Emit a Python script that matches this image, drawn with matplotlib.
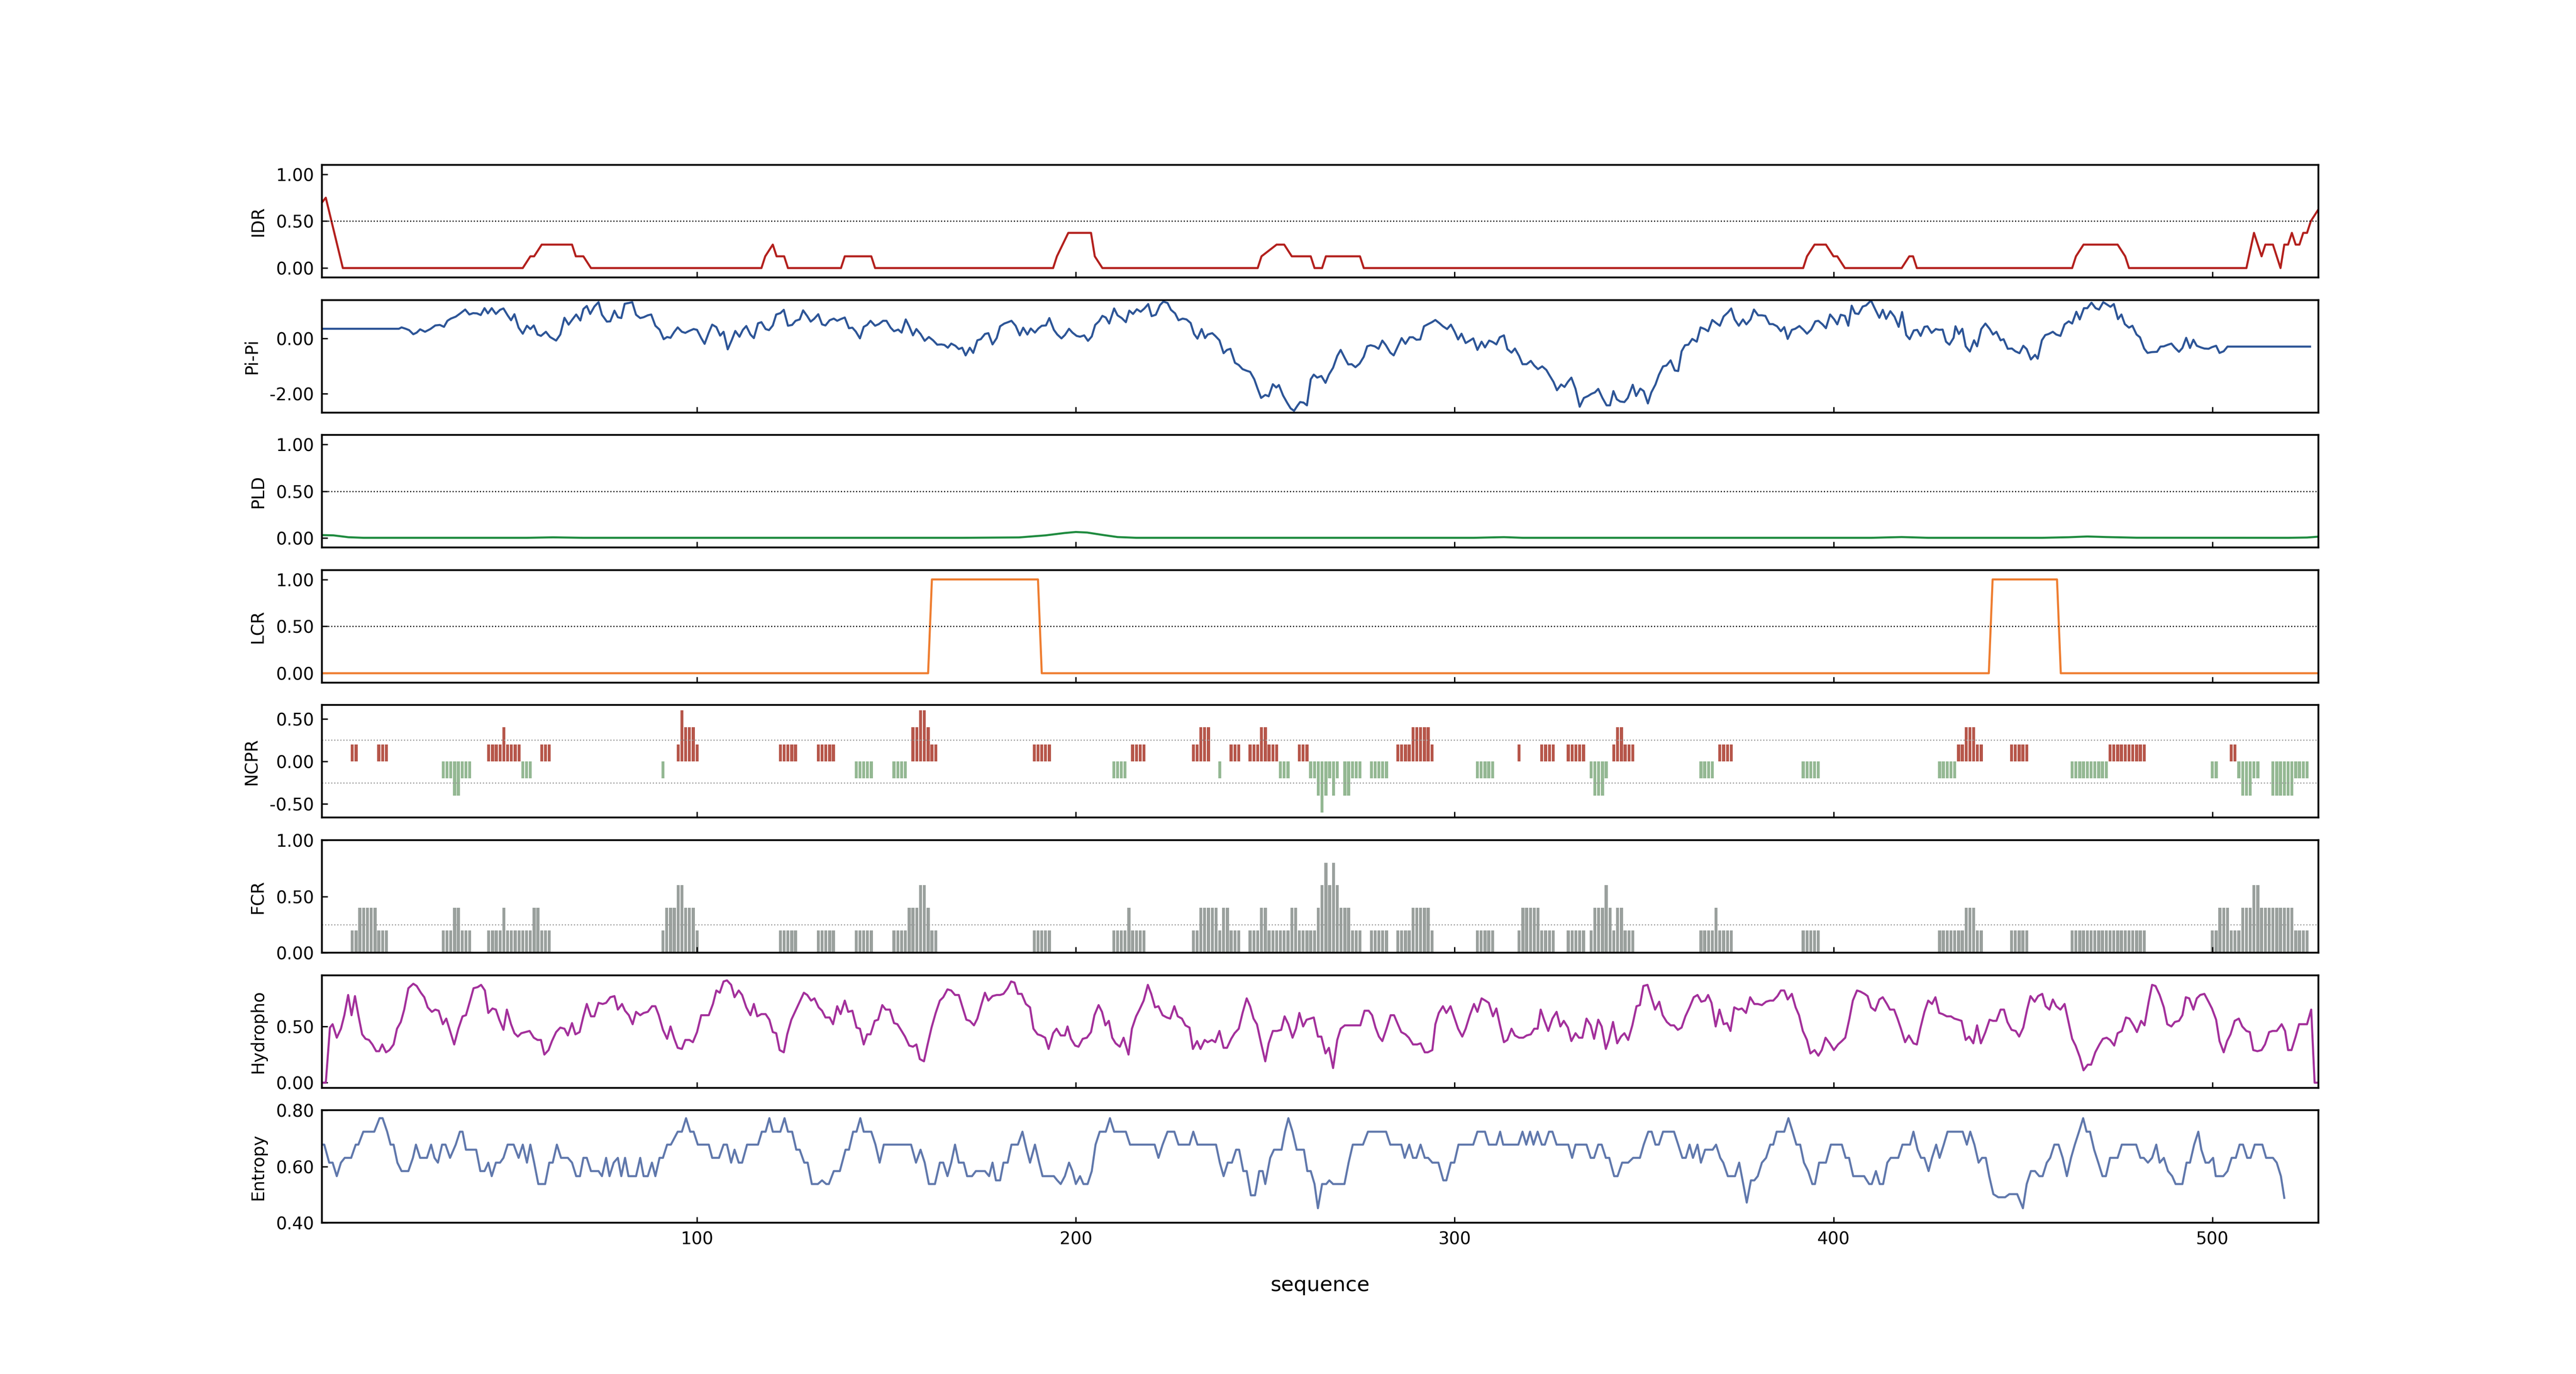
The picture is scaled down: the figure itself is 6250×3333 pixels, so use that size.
import numpy as np
import matplotlib
matplotlib.use('Agg')
import matplotlib.pyplot as plt

# sequence length / x range
seq_start = 1
seq_end = 528

# IDR profile (residue, score)
idr_pts = [(1, 0.70), (2, 0.75), (6.5, 0.0), (54, 0), (56, 0.125), (57, 0.125), (59, 0.25), (67, 0.25),
           (68, 0.125), (70, 0.125), (72, 0), (117, 0), (118, 0.125), (120, 0.25), (121, 0.125),
           (123, 0.125), (124, 0), (138, 0), (139, 0.125), (146, 0.125), (147, 0), (194, 0),
           (195, 0.125), (198, 0.375), (204, 0.375), (205, 0.125), (207, 0), (248, 0), (249, 0.125),
           (253, 0.25), (255, 0.25), (257, 0.125), (262, 0.125), (263, 0), (265, 0), (266, 0.125),
           (275, 0.125), (276, 0), (392, 0), (393, 0.125), (395, 0.25), (398, 0.25), (400, 0.125),
           (401, 0.125), (403, 0), (418, 0), (420, 0.125), (421, 0.125), (422, 0), (463, 0),
           (464, 0.125), (466, 0.25), (475, 0.25), (477, 0.125), (478, 0), (509, 0), (511, 0.375),
           (513, 0.125), (514, 0.25), (516, 0.25), (518, 0), (519, 0.25), (520, 0.25), (521, 0.375),
           (522, 0.25), (523, 0.25), (524, 0.375), (525, 0.375), (526, 0.5), (528, 0.625)]

pipi_pts = [(1, 0.36), (21.3, 0.36), (22.0, 0.41), (23.1, 0.36), (24.0, 0.31), (25.1, 0.16), (26.0, 0.22),
            (26.9, 0.34), (28.2, 0.25), (29.6, 0.35), (30.9, 0.48), (32.1, 0.50), (33.2, 0.43), (34.1, 0.65),
            (35.0, 0.73), (36.3, 0.80), (37.5, 0.92), (38.8, 1.06), (39.9, 0.88), (40.9, 0.93), (41.9, 0.92),
            (42.9, 0.86), (43.9, 1.11), (44.8, 0.92), (45.8, 1.11), (46.9, 0.90), (48.0, 1.05), (48.9, 1.10),
            (50.0, 0.85), (50.9, 0.67), (51.8, 0.89), (52.9, 0.40), (54.0, 0.18), (55.1, 0.47), (56.0, 0.35),
            (56.9, 0.48), (57.9, 0.15), (58.8, 0.10), (60.1, 0.25), (61.2, 0.06), (62.8, -0.07), (63.9, 0.15),
            (65.0, 0.76), (66.1, 0.51), (67.1, 0.70), (68.1, 0.88), (69.2, 0.66), (70.0, 1.08), (70.9, 1.19),
            (71.8, 0.90), (72.9, 1.17), (74.0, 1.33), (74.9, 0.87), (76.2, 0.62), (77.1, 0.63), (78.2, 1.02),
            (79.1, 0.78), (80.0, 0.75), (80.9, 1.27), (82.0, 1.30), (82.9, 1.33), (83.9, 0.87), (85.0, 0.75),
            (85.9, 0.78), (87.0, 0.85), (87.9, 0.88), (89.0, 0.47), (90.1, 0.33), (91.2, -0.02), (92.1, 0.06),
            (93.0, 0.03), (94.0, 0.25), (94.9, 0.41), (96.0, 0.25), (96.9, 0.21), (97.9, 0.28), (99.1, 0.35),
            (100.0, 0.32), (101.1, 0.02), (102.0, -0.19), (103.1, 0.22), (104.0, 0.51), (105.1, 0.42),
            (106.1, 0.11), (107.0, 0.25), (108.1, -0.39), (109.2, -0.04), (110.1, 0.28), (111.2, 0.07),
            (112.1, 0.32), (113.0, 0.46), (114.1, 0.15), (115.0, 0.02), (116.1, 0.56), (117.0, 0.60),
            (118.1, 0.35), (119.0, 0.31), (120.0, 0.48), (120.9, 0.88), (122.0, 0.93), (122.9, 1.05),
            (124.0, 0.47), (125.1, 0.50), (126.0, 0.65), (127.1, 0.70), (128.0, 1.03), (129.1, 0.82),
            (130.0, 0.62), (130.9, 0.72), (132.0, 0.89), (133.0, 0.52), (133.9, 0.48), (135.0, 0.67),
            (136.1, 0.73), (137.0, 0.65), (137.9, 0.71), (139.0, 0.77), (140.1, 0.38), (141.0, 0.40),
            (141.9, 0.26), (143.0, 0.01), (144.0, 0.43), (144.9, 0.50), (145.8, 0.65), (147.0, 0.47),
            (148.0, 0.53), (149.1, 0.65), (150.0, 0.65), (151.1, 0.40), (152.0, 0.27), (153.1, 0.33),
            (154.0, 0.22), (155.1, 0.70), (156.0, 0.45), (157.0, 0.12), (157.9, 0.35), (159.0, 0.17),
            (160.1, -0.08), (161.2, 0.06), (162.3, -0.06), (163.4, -0.22), (164.5, -0.21), (165.3, -0.23),
            (166.2, -0.33), (167.1, -0.18), (168.2, -0.26), (169.1, -0.38), (170.0, -0.33), (170.9, -0.61),
            (172.0, -0.33), (172.9, -0.52), (174.0, -0.06), (174.9, -0.02), (176.0, 0.17), (176.9, 0.20),
            (178.0, -0.21), (179.1, 0.02), (180.0, 0.45), (181.1, 0.55), (182.1, 0.60), (183.0, 0.65),
            (184.1, 0.47), (185.2, 0.12), (186.1, 0.40), (187.2, 0.15), (188.1, 0.37), (189.2, 0.22),
            (190.1, 0.37), (191.0, 0.47), (192.1, 0.48), (193.0, 0.75), (194.2, 0.32), (195.1, 0.15),
            (196.2, 0.01), (197.1, 0.13), (198.2, 0.36), (199.1, 0.22), (200.2, 0.10), (201.1, 0.07),
            (202.2, 0.12), (203.2, -0.08), (204.2, 0.08), (205.1, 0.50), (206.1, 0.63), (207.0, 0.83),
            (207.9, 0.77), (208.8, 0.55), (210.1, 1.10), (211.0, 0.85), (212.1, 0.75), (213.2, 0.60),
            (214.1, 1.02), (215.1, 0.90), (216.1, 1.07), (217.1, 0.98), (218.1, 1.10), (219.1, 1.26),
            (220.0, 0.82), (221.1, 0.87), (222.2, 1.22), (223.1, 1.35), (224.2, 1.30), (225.1, 1.05),
            (226.2, 0.92), (227.1, 0.67), (228.2, 0.73), (229.2, 0.70), (230.3, 0.57), (231.2, 0.17),
            (232.1, 0.00), (233.2, 0.35), (234.1, 0.02), (234.8, 0.15), (236.0, 0.20), (236.8, 0.10),
            (237.9, -0.06), (239.0, -0.53), (239.9, -0.41), (240.8, -0.37), (242.0, -0.88), (243.0, -0.96),
            (244.0, -1.11), (245.1, -1.17), (246.0, -1.21), (247.1, -1.48), (248.0, -1.83), (248.9, -2.16),
            (250.0, -2.05), (250.9, -2.10), (252.0, -1.66), (252.9, -1.78), (253.6, -1.69), (254.7, -2.07),
            (255.8, -2.34), (256.7, -2.54), (257.6, -2.63), (258.5, -2.44), (259.2, -2.31), (260.1, -2.33),
            (261.0, -2.43), (262.0, -1.48), (262.8, -1.31), (263.7, -1.42), (264.8, -1.36), (265.9, -1.61),
            (266.8, -1.31), (267.9, -1.06), (269.0, -0.63), (269.9, -0.41), (271.0, -0.71), (271.9, -0.94),
            (272.8, -0.93), (273.8, -1.04), (274.9, -0.91), (276.0, -0.66), (276.9, -0.28), (277.8, -0.24),
            (278.9, -0.28), (279.9, -0.37), (280.9, -0.07), (281.8, -0.23), (283.0, -0.51), (283.9, -0.61),
            (285.0, -0.28), (286.0, 0.02), (287.0, -0.19), (288.1, 0.05), (289.0, 0.05), (289.9, -0.04),
            (290.9, -0.03), (291.9, 0.45), (293.0, 0.53), (294.0, 0.60), (294.9, 0.68), (296.0, 0.56),
            (296.9, 0.45), (298.0, 0.35), (299.0, 0.51), (300.0, 0.25), (300.9, -0.03), (301.8, 0.18),
            (302.9, -0.16), (304.0, -0.07), (304.9, 0.01), (306.0, -0.41), (307.1, -0.11), (308.0, -0.32),
            (309.1, -0.07), (310.0, -0.12), (311.0, -0.21), (311.9, 0.05), (313.0, 0.12), (313.9, -0.38),
            (315.0, -0.51), (315.9, -0.36), (317.0, -0.63), (317.9, -0.93), (319.0, -0.93), (320.1, -0.81),
            (321.0, -0.98), (322.0, -1.11), (323.1, -1.01), (324.2, -1.14), (325.0, -1.33), (326.1, -1.58),
            (327.0, -1.88), (328.1, -1.67), (329.0, -1.76), (329.9, -1.57), (330.8, -1.42), (331.9, -1.83),
            (333.0, -2.48), (334.1, -2.16), (335.2, -2.09), (336.1, -2.01), (337.0, -1.96), (337.9, -1.83),
            (339.0, -2.16), (340.1, -2.43), (341.0, -2.43), (341.9, -1.91), (342.8, -2.21), (343.7, -2.29),
            (344.8, -2.31), (345.7, -2.16), (347.0, -1.68), (347.9, -2.09), (349.0, -1.82), (349.9, -1.91),
            (351.0, -2.36), (351.9, -1.96), (353.0, -1.67), (353.9, -1.32), (355.0, -1.01), (355.9, -0.98),
            (357.0, -0.79), (358.1, -1.16), (359.0, -1.18), (359.9, -0.46), (360.8, -0.24), (361.7, -0.22),
            (362.7, -0.01), (363.9, -0.11), (364.9, 0.41), (366.0, 0.35), (366.9, 0.27), (368.0, 0.68),
            (369.1, 0.56), (370.0, 0.47), (371.0, 0.81), (372.1, 0.95), (373.0, 1.10), (373.9, 0.70),
            (375.0, 0.47), (376.1, 0.70), (377.0, 0.52), (378.1, 0.70), (379.0, 1.06), (380.1, 0.85),
            (381.1, 0.85), (382.0, 0.83), (383.1, 0.53), (384.0, 0.53), (385.1, 0.45), (386.1, 0.27),
            (387.0, 0.42), (387.9, -0.01), (389.0, 0.32), (389.9, 0.36), (391.0, 0.46), (392.1, 0.32),
            (393.0, 0.18), (394.1, 0.33), (395.2, 0.63), (396.0, 0.65), (397.1, 0.52), (398.0, 0.38),
            (399.1, 0.88), (400.2, 0.70), (401.0, 0.52), (401.9, 0.87), (403.0, 0.83), (403.9, 0.47),
            (404.8, 1.20), (405.7, 0.92), (406.6, 0.90), (407.7, 1.17), (408.6, 1.21), (409.9, 1.39),
            (411.0, 1.07), (412.1, 0.76), (413.0, 1.05), (413.9, 0.72), (415.0, 1.00), (416.1, 0.80),
            (417.2, 0.43), (418.1, 0.97), (419.2, 0.13), (420.1, -0.02), (421.2, 0.30), (422.1, 0.32),
            (423.0, 0.10), (424.0, 0.43), (424.8, 0.45), (425.9, 0.21), (427.0, 0.35), (427.9, 0.32),
            (428.8, 0.33), (429.7, -0.11), (430.6, -0.22), (431.7, 0.03), (432.2, 0.45), (433.1, 0.17),
            (434.0, 0.36), (434.9, -0.28), (436.0, -0.47), (437.1, -0.06), (437.9, -0.28), (439.0, 0.35),
            (440.1, 0.55), (441.2, 0.36), (442.1, 0.15), (443.0, 0.25), (444.1, -0.06), (444.9, -0.02),
            (446.0, -0.37), (447.1, -0.36), (448.0, -0.46), (449.1, -0.53), (450.1, -0.26), (451.0, -0.38),
            (452.1, -0.76), (453.2, -0.59), (453.9, -0.73), (455.0, -0.06), (455.9, 0.13), (456.8, 0.17),
            (457.9, 0.25), (458.8, 0.15), (459.9, 0.10), (461.0, 0.52), (462.1, 0.63), (463.0, 0.55),
            (464.1, 0.98), (465.0, 0.70), (466.1, 1.11), (467.0, 1.11), (468.1, 1.31), (469.2, 1.11),
            (470.1, 1.06), (471.2, 1.33), (472.0, 1.26), (473.1, 1.16), (474.0, 1.26), (475.1, 0.71),
            (476.0, 0.88), (476.9, 0.53), (478.0, 0.40), (478.9, 0.47), (480.0, 0.15), (480.9, 0.05),
            (482.0, -0.36), (482.9, -0.52), (484.0, -0.49), (485.4, -0.48), (486.3, -0.29), (487.2, -0.28),
            (488.3, -0.22), (489.2, -0.18), (490.1, -0.33), (491.2, -0.48), (492.1, -0.34), (493.1, 0.03),
            (494.1, -0.34), (495.0, -0.04), (495.9, -0.26), (497.0, -0.32), (497.9, -0.36), (499.0, -0.37),
            (499.9, -0.31), (501.0, -0.26), (501.9, -0.52), (503.0, -0.46), (504.0, -0.29), (525.8, -0.29)]

pld_pts = [(1, 0.033), (4, 0.03), (8, 0.01), (12, 0.004), (55, 0.004), (62, 0.009), (70, 0.004),
           (170, 0.004), (185, 0.008), (192, 0.03), (197, 0.055), (200, 0.066), (203, 0.06), (207, 0.035),
           (211, 0.012), (216, 0.004), (305, 0.004), (313, 0.011), (318, 0.004), (410, 0.004), (418, 0.012),
           (425, 0.004), (455, 0.004), (462, 0.01), (467, 0.018), (472, 0.012), (480, 0.005), (520, 0.004),
           (525, 0.007), (528, 0.016)]

lcr_pts = [(1, 0), (161, 0), (162, 1), (190, 1), (191, 0), (441, 0), (442, 1), (459, 1), (460, 0), (528, 0)]

# charge windows: (first residue, last residue, value)
ncpr_runs = [(9, 10, 0.2), (16, 18, 0.2), (33, 35, -0.2), (36, 37, -0.4), (38, 40, -0.2),
             (45, 48, 0.2), (49, 49, 0.4), (50, 53, 0.2), (54, 56, -0.2), (59, 61, 0.2), (91, 91, -0.2),
             (95, 95, 0.2), (96, 96, 0.6), (97, 99, 0.4), (100, 100, 0.2), (122, 126, 0.2), (132, 136, 0.2),
             (142, 146, -0.2), (152, 155, -0.2), (157, 158, 0.4), (159, 160, 0.6), (161, 161, 0.4),
             (162, 163, 0.2), (189, 193, 0.2), (210, 213, -0.2), (215, 218, 0.2), (231, 232, 0.2),
             (233, 235, 0.4), (238, 238, -0.2), (241, 243, 0.2), (246, 248, 0.2), (249, 250, 0.4),
             (251, 253, 0.2), (254, 256, -0.2), (259, 261, 0.2), (262, 263, -0.2), (264, 264, -0.4),
             (265, 265, -0.6), (266, 266, -0.4), (267, 267, -0.2), (268, 268, -0.4), (269, 269, -0.2),
             (271, 272, -0.4), (273, 275, -0.2), (278, 282, -0.2), (285, 288, 0.2), (289, 293, 0.4),
             (294, 294, 0.2), (306, 310, -0.2), (317, 317, 0.2), (323, 326, 0.2), (330, 334, 0.2),
             (336, 336, -0.2), (337, 339, -0.4), (340, 340, -0.2), (342, 342, 0.2), (343, 344, 0.4),
             (345, 347, 0.2), (365, 368, -0.2), (370, 373, 0.2), (392, 396, -0.2), (428, 432, -0.2),
             (433, 434, 0.2), (435, 437, 0.4), (438, 439, 0.2), (447, 451, 0.2), (463, 472, -0.2),
             (473, 482, 0.2), (500, 501, -0.2), (505, 506, 0.2), (507, 507, -0.2), (508, 510, -0.4),
             (511, 512, -0.2), (516, 521, -0.4), (522, 525, -0.2)]

fcr_runs = [(9, 10, 0.2), (11, 15, 0.4), (16, 18, 0.2), (33, 35, 0.2), (36, 37, 0.4), (38, 40, 0.2),
            (45, 48, 0.2), (49, 49, 0.4), (50, 56, 0.2), (57, 58, 0.4), (59, 61, 0.2), (91, 91, 0.2),
            (92, 94, 0.4), (95, 96, 0.6), (97, 99, 0.4), (100, 100, 0.2), (122, 126, 0.2), (132, 136, 0.2),
            (142, 146, 0.2), (152, 155, 0.2), (156, 158, 0.4), (159, 160, 0.6), (161, 161, 0.4),
            (162, 163, 0.2), (189, 193, 0.2), (210, 213, 0.2), (214, 214, 0.4), (215, 218, 0.2),
            (231, 232, 0.2), (233, 237, 0.4), (238, 238, 0.2), (239, 240, 0.4), (241, 243, 0.2),
            (246, 248, 0.2), (249, 250, 0.4), (251, 256, 0.2), (257, 258, 0.4), (259, 263, 0.2),
            (264, 264, 0.4), (265, 265, 0.6), (266, 266, 0.8), (267, 267, 0.6), (268, 268, 0.8),
            (269, 269, 0.6), (270, 272, 0.4), (273, 275, 0.2), (278, 282, 0.2), (285, 288, 0.2),
            (289, 293, 0.4), (294, 294, 0.2), (306, 310, 0.2), (317, 317, 0.2), (318, 322, 0.4),
            (323, 326, 0.2), (330, 334, 0.2), (336, 336, 0.2), (337, 339, 0.4), (340, 340, 0.6),
            (341, 341, 0.4), (342, 342, 0.2), (343, 344, 0.4), (345, 347, 0.2), (365, 368, 0.2),
            (369, 369, 0.4), (370, 373, 0.2), (392, 396, 0.2), (428, 434, 0.2), (435, 437, 0.4),
            (438, 439, 0.2), (447, 451, 0.2), (463, 482, 0.2), (500, 501, 0.2), (502, 504, 0.4),
            (505, 507, 0.2), (508, 510, 0.4), (511, 512, 0.6), (513, 521, 0.4), (522, 525, 0.2)]

hydro_pts = [(1, 0.0), (2, 0.0), (3.1, 0.49), (3.8, 0.52), (4.9, 0.40), (6.0, 0.48), (6.9, 0.60), (7.9, 0.78),
             (8.8, 0.60), (9.7, 0.77), (10.6, 0.60), (11.6, 0.43), (12.5, 0.39), (13.4, 0.38), (14.3, 0.34),
             (15.3, 0.28), (16.1, 0.28), (16.9, 0.34), (17.9, 0.27), (18.8, 0.29), (19.9, 0.34), (20.8, 0.48),
             (21.8, 0.54), (22.7, 0.65), (23.8, 0.84), (25.1, 0.88), (26.0, 0.86), (27.1, 0.80), (28.0, 0.76),
             (28.9, 0.67), (30.0, 0.63), (30.9, 0.65), (31.8, 0.64), (32.9, 0.52), (33.8, 0.57), (34.8, 0.46),
             (35.9, 0.34), (37.0, 0.48), (38.1, 0.59), (39.0, 0.60), (40.1, 0.73), (41.0, 0.84), (42.1, 0.85),
             (43.0, 0.87), (44.0, 0.82), (44.9, 0.62), (46.0, 0.66), (46.9, 0.65), (47.8, 0.56), (48.9, 0.47),
             (49.8, 0.65), (50.9, 0.52), (51.8, 0.44), (52.7, 0.41), (53.6, 0.44), (54.7, 0.45), (55.8, 0.46),
             (56.9, 0.40), (57.9, 0.38), (58.8, 0.38), (59.7, 0.25), (60.8, 0.29), (61.7, 0.37), (62.8, 0.45),
             (63.9, 0.49), (65.0, 0.48), (65.9, 0.42), (67.0, 0.53), (67.9, 0.43), (69.0, 0.45), (70.0, 0.59),
             (70.9, 0.70), (72.0, 0.59), (72.9, 0.59), (74.0, 0.71), (75.1, 0.70), (76.0, 0.71), (77.1, 0.76),
             (78.2, 0.77), (79.1, 0.65), (80.2, 0.70), (81.0, 0.64), (82.0, 0.60), (83.0, 0.52), (83.9, 0.63),
             (85.0, 0.60), (85.9, 0.62), (87.0, 0.63), (88.1, 0.68), (89.0, 0.68), (89.9, 0.60), (91.0, 0.47),
             (92.1, 0.39), (93.0, 0.50), (94.0, 0.39), (94.9, 0.31), (96.0, 0.30), (96.9, 0.38), (98.0, 0.38),
             (98.9, 0.36), (100.0, 0.45), (101.1, 0.60), (102.2, 0.60), (103.1, 0.60), (104.2, 0.70),
             (105.1, 0.82), (106.0, 0.80), (107.0, 0.90), (107.9, 0.91), (109.0, 0.87), (109.9, 0.76),
             (111.0, 0.82), (111.9, 0.78), (113.0, 0.67), (114.1, 0.60), (115.0, 0.70), (115.9, 0.59),
             (117.0, 0.61), (118.1, 0.61), (119.1, 0.56), (120.0, 0.45), (120.9, 0.44), (121.8, 0.29),
             (122.9, 0.27), (123.8, 0.43), (124.9, 0.56), (126.0, 0.64), (127.1, 0.72), (128.2, 0.80),
             (129.1, 0.78), (130.1, 0.73), (131.0, 0.75), (132.1, 0.67), (133.0, 0.64), (133.9, 0.58),
             (135.0, 0.58), (135.9, 0.52), (137.0, 0.68), (137.9, 0.61), (139.0, 0.73), (139.9, 0.63),
             (141.0, 0.64), (142.1, 0.49), (143.0, 0.48), (144.0, 0.34), (144.9, 0.43), (145.8, 0.43),
             (146.9, 0.55), (147.8, 0.56), (148.9, 0.69), (149.8, 0.65), (150.9, 0.65), (152.0, 0.53),
             (152.9, 0.52), (154.0, 0.46), (154.9, 0.41), (156.0, 0.33), (157.0, 0.32), (157.9, 0.34),
             (158.8, 0.21), (159.9, 0.19), (160.8, 0.33), (161.9, 0.49), (163.0, 0.62), (164.1, 0.73),
             (165.0, 0.76), (166.1, 0.83), (167.1, 0.82), (168.1, 0.78), (169.1, 0.78), (170.0, 0.68),
             (171.1, 0.56), (172.0, 0.55), (173.1, 0.51), (174.0, 0.57), (175.1, 0.70), (176.0, 0.80),
             (176.9, 0.73), (178.0, 0.77), (179.1, 0.78), (180.0, 0.78), (180.9, 0.79), (182.0, 0.84),
             (182.9, 0.90), (183.8, 0.89), (184.7, 0.79), (185.7, 0.79), (186.8, 0.70), (187.9, 0.67),
             (188.8, 0.48), (189.9, 0.43), (190.8, 0.42), (191.9, 0.40), (192.8, 0.30), (194.0, 0.44),
             (194.9, 0.48), (196.0, 0.42), (197.1, 0.42), (197.8, 0.50), (198.7, 0.39), (199.8, 0.33),
             (200.7, 0.32), (201.8, 0.39), (202.9, 0.40), (204.0, 0.45), (204.9, 0.60), (206.0, 0.69),
             (206.9, 0.63), (207.8, 0.51), (208.7, 0.55), (209.6, 0.40), (210.5, 0.35), (211.6, 0.32),
             (212.6, 0.40), (213.9, 0.25), (214.8, 0.48), (215.9, 0.59), (216.8, 0.65), (217.9, 0.73),
             (219.0, 0.87), (219.9, 0.79), (220.9, 0.67), (221.8, 0.68), (222.9, 0.60), (224.0, 0.58),
             (224.9, 0.57), (226.0, 0.68), (226.9, 0.59), (228.0, 0.57), (228.9, 0.51), (230.0, 0.49),
             (230.9, 0.30), (232.0, 0.37), (232.9, 0.30), (234.0, 0.38), (234.8, 0.36), (235.9, 0.38),
             (236.8, 0.36), (237.9, 0.46), (239.0, 0.31), (239.9, 0.31), (241.0, 0.39), (241.9, 0.44),
             (243.0, 0.48), (244.0, 0.62), (245.1, 0.75), (246.0, 0.68), (246.9, 0.57), (247.8, 0.52),
             (248.9, 0.35), (250.0, 0.19), (250.9, 0.35), (252.0, 0.46), (253.1, 0.46), (254.2, 0.47),
             (255.1, 0.59), (256.1, 0.52), (257.2, 0.40), (258.1, 0.48), (259.0, 0.62), (260.0, 0.50),
             (260.9, 0.56), (261.9, 0.57), (262.8, 0.58), (263.9, 0.41), (264.8, 0.41), (265.9, 0.26),
             (266.8, 0.31), (267.9, 0.13), (269.0, 0.38), (269.9, 0.48), (271.0, 0.51), (272.1, 0.51),
             (273.1, 0.51), (274.0, 0.51), (275.1, 0.51), (276.2, 0.64), (277.3, 0.64), (278.2, 0.60),
             (279.1, 0.49), (280.0, 0.41), (280.9, 0.37), (282.0, 0.48), (283.1, 0.60), (284.0, 0.60),
             (285.0, 0.52), (285.9, 0.45), (287.0, 0.43), (287.9, 0.40), (289.0, 0.34), (290.1, 0.34),
             (291.0, 0.35), (292.1, 0.27), (292.9, 0.27), (294.1, 0.29), (294.9, 0.52), (295.8, 0.62),
             (296.9, 0.68), (297.8, 0.62), (298.9, 0.68), (300.0, 0.57), (300.9, 0.48), (302.0, 0.41),
             (302.9, 0.48), (304.0, 0.60), (305.1, 0.70), (306.0, 0.63), (307.1, 0.75), (308.1, 0.73),
             (309.0, 0.71), (310.1, 0.59), (311.0, 0.66), (311.9, 0.52), (313.0, 0.36), (313.9, 0.38),
             (315.0, 0.48), (315.9, 0.42), (317.0, 0.40), (318.1, 0.40), (319.0, 0.42), (320.1, 0.43),
             (321.0, 0.48), (321.9, 0.48), (322.7, 0.65), (323.6, 0.56), (324.7, 0.46), (325.8, 0.57),
             (326.9, 0.63), (327.9, 0.50), (328.8, 0.55), (329.9, 0.49), (330.8, 0.37), (331.9, 0.44),
             (332.8, 0.40), (333.7, 0.40), (334.8, 0.57), (335.9, 0.51), (336.8, 0.39), (337.9, 0.56),
             (338.8, 0.50), (339.9, 0.30), (340.7, 0.38), (341.8, 0.54), (342.9, 0.35), (343.9, 0.41),
             (344.8, 0.44), (345.8, 0.38), (346.9, 0.51), (348.0, 0.68), (348.9, 0.69), (349.8, 0.86),
             (350.9, 0.87), (351.9, 0.76), (352.9, 0.65), (354.0, 0.72), (354.9, 0.60), (356.0, 0.54),
             (357.0, 0.51), (357.9, 0.51), (358.9, 0.47), (359.9, 0.49), (360.9, 0.59), (362.0, 0.67),
             (363.1, 0.76), (364.1, 0.78), (365.1, 0.72), (366.1, 0.73), (366.9, 0.78), (367.8, 0.71),
             (368.9, 0.50), (369.9, 0.65), (371.0, 0.52), (371.9, 0.53), (372.8, 0.46), (373.8, 0.67),
             (374.9, 0.65), (375.8, 0.66), (376.9, 0.62), (378.0, 0.76), (379.1, 0.70), (380.0, 0.70),
             (381.1, 0.69), (382.2, 0.72), (383.2, 0.73), (384.1, 0.73), (385.2, 0.77), (386.1, 0.82),
             (387.0, 0.82), (387.9, 0.74), (389.0, 0.79), (390.0, 0.67), (390.9, 0.60), (391.9, 0.46),
             (393.0, 0.38), (393.9, 0.26), (395.0, 0.29), (396.0, 0.24), (396.9, 0.29), (397.9, 0.40),
             (399.0, 0.35), (400.1, 0.29), (401.2, 0.34), (402.2, 0.37), (403.1, 0.40), (404.2, 0.57),
             (405.1, 0.73), (406.2, 0.82), (407.1, 0.81), (408.2, 0.79), (409.0, 0.77), (409.9, 0.67),
             (411.0, 0.64), (412.1, 0.74), (413.0, 0.76), (414.1, 0.70), (414.9, 0.65), (416.0, 0.65),
             (416.9, 0.57), (417.8, 0.48), (418.9, 0.36), (419.9, 0.42), (421.1, 0.35), (422.0, 0.34),
             (422.9, 0.48), (424.0, 0.63), (425.0, 0.73), (426.0, 0.70), (426.9, 0.76), (427.9, 0.62),
             (428.8, 0.61), (429.9, 0.59), (431.0, 0.59), (431.9, 0.57), (432.9, 0.56), (433.8, 0.55),
             (434.9, 0.38), (435.8, 0.41), (436.9, 0.35), (437.9, 0.51), (438.9, 0.35), (440.1, 0.45),
             (441.2, 0.56), (442.1, 0.55), (443.0, 0.55), (444.1, 0.65), (445.0, 0.65), (445.9, 0.54),
             (447.0, 0.47), (448.1, 0.46), (449.0, 0.41), (450.1, 0.49), (451.1, 0.65), (452.0, 0.77),
             (453.1, 0.72), (454.0, 0.77), (455.1, 0.79), (456.0, 0.68), (457.0, 0.65), (457.9, 0.74),
             (458.8, 0.68), (459.9, 0.65), (461.0, 0.70), (461.9, 0.56), (463.0, 0.39), (463.9, 0.33),
             (465.0, 0.23), (466.0, 0.11), (467.1, 0.16), (468.0, 0.16), (469.1, 0.27), (470.2, 0.34),
             (471.1, 0.39), (472.1, 0.40), (473.0, 0.38), (474.1, 0.33), (475.0, 0.44), (476.1, 0.46),
             (477.2, 0.58), (478.1, 0.57), (479.2, 0.51), (480.1, 0.45), (481.2, 0.55), (482.1, 0.51),
             (483.2, 0.72), (484.1, 0.87), (485.0, 0.86), (486.1, 0.78), (487.2, 0.67), (488.1, 0.52),
             (489.2, 0.50), (490.1, 0.54), (491.2, 0.55), (492.1, 0.60), (493.0, 0.76), (493.9, 0.75),
             (495.0, 0.65), (495.9, 0.75), (496.8, 0.78), (497.9, 0.79), (499.0, 0.72), (499.9, 0.66),
             (501.0, 0.56), (501.9, 0.37), (503.0, 0.27), (503.9, 0.37), (504.8, 0.43), (505.9, 0.55),
             (507.0, 0.57), (507.9, 0.50), (509.0, 0.46), (509.9, 0.45), (510.8, 0.29), (511.9, 0.28),
             (513.0, 0.29), (513.9, 0.34), (515.0, 0.45), (515.9, 0.46), (517.0, 0.46), (518.3, 0.52),
             (519.2, 0.46), (520.0, 0.29), (520.9, 0.29), (522.0, 0.41), (522.9, 0.52), (524.0, 0.52),
             (525.0, 0.52), (526.1, 0.65), (527.0, 0.0), (528.0, 0.0)]

entropy_pts = [(1, 0.678), (1.6, 0.678), (2.9, 0.614), (3.8, 0.614), (4.9, 0.566), (6.0, 0.614), (7.0, 0.631),
               (8.7, 0.631), (9.9, 0.678), (10.6, 0.678), (11.9, 0.724), (14.8, 0.724), (16.2, 0.772),
               (17.0, 0.772), (18.2, 0.724), (19.1, 0.678), (19.9, 0.678), (20.9, 0.614), (22.0, 0.584),
               (23.8, 0.584), (25.0, 0.631), (25.8, 0.678), (26.9, 0.631), (28.7, 0.631), (29.8, 0.678),
               (30.7, 0.631), (31.6, 0.614), (32.7, 0.678), (33.6, 0.678), (34.8, 0.631), (36.3, 0.678),
               (37.4, 0.724), (38.1, 0.724), (39.0, 0.660), (41.7, 0.660), (42.8, 0.584), (43.9, 0.584),
               (44.9, 0.614), (45.8, 0.566), (46.9, 0.614), (48.0, 0.614), (48.9, 0.631), (50.0, 0.678),
               (51.6, 0.678), (52.9, 0.631), (54.0, 0.678), (55.1, 0.614), (56.0, 0.678), (57.0, 0.614),
               (58.1, 0.538), (59.9, 0.538), (61.0, 0.614), (61.9, 0.614), (63.0, 0.678), (64.1, 0.631),
               (65.9, 0.631), (67.0, 0.614), (68.1, 0.566), (69.1, 0.566), (70.0, 0.631), (70.9, 0.631),
               (72.0, 0.584), (74.0, 0.584), (74.9, 0.566), (76.0, 0.631), (76.9, 0.566), (78.0, 0.614),
               (79.1, 0.631), (80.0, 0.566), (81.0, 0.631), (81.9, 0.566), (83.9, 0.566), (85.0, 0.631),
               (85.9, 0.566), (87.0, 0.566), (88.1, 0.614), (89.0, 0.566), (90.1, 0.631), (91.0, 0.631),
               (92.1, 0.678), (93.1, 0.678), (94.9, 0.724), (96.0, 0.724), (97.1, 0.772), (98.2, 0.724),
               (99.1, 0.724), (100.2, 0.678), (103.1, 0.678), (104.0, 0.631), (105.8, 0.631), (107.0, 0.678),
               (107.9, 0.678), (109.0, 0.614), (109.9, 0.660), (111.0, 0.614), (111.9, 0.614), (113.2, 0.678),
               (116.1, 0.678), (117.1, 0.724), (118.1, 0.724), (119.1, 0.772), (120.0, 0.724), (122.0, 0.724),
               (123.1, 0.772), (124.0, 0.724), (125.1, 0.724), (126.2, 0.660), (127.1, 0.660), (128.3, 0.614),
               (129.2, 0.614), (130.3, 0.538), (131.9, 0.538), (133.0, 0.551), (134.1, 0.538), (134.8, 0.538),
               (136.1, 0.584), (137.7, 0.584), (139.2, 0.660), (140.1, 0.660), (141.2, 0.724), (142.1, 0.724),
               (143.1, 0.772), (144.0, 0.724), (146.0, 0.724), (147.1, 0.678), (148.2, 0.614), (149.3, 0.678),
               (156.5, 0.678), (157.8, 0.614), (159.0, 0.660), (160.1, 0.614), (161.2, 0.538), (162.8, 0.538),
               (164.1, 0.614), (165.0, 0.614), (166.1, 0.566), (167.1, 0.614), (168.1, 0.678), (169.1, 0.614),
               (170.4, 0.614), (171.3, 0.566), (172.6, 0.566), (173.6, 0.584), (176.0, 0.584), (177.1, 0.566),
               (178.0, 0.614), (178.9, 0.551), (180.0, 0.551), (180.9, 0.614), (182.0, 0.614), (183.0, 0.678),
               (184.7, 0.678), (185.9, 0.724), (187.0, 0.660), (187.9, 0.614), (189.2, 0.678), (190.3, 0.614),
               (191.2, 0.566), (194.2, 0.566), (195.1, 0.551), (196.0, 0.538), (197.1, 0.566), (198.2, 0.614),
               (199.1, 0.584), (200.0, 0.538), (201.1, 0.566), (202.0, 0.538), (203.1, 0.538), (204.2, 0.584),
               (205.2, 0.678), (206.3, 0.724), (207.9, 0.724), (209.0, 0.772), (210.1, 0.724), (213.2, 0.724),
               (214.3, 0.678), (220.8, 0.678), (221.8, 0.631), (222.9, 0.678), (224.2, 0.724), (226.0, 0.724),
               (227.1, 0.678), (230.0, 0.678), (231.0, 0.724), (232.1, 0.678), (237.0, 0.678), (238.0, 0.614),
               (239.0, 0.566), (240.1, 0.614), (241.2, 0.614), (242.3, 0.660), (243.1, 0.660), (244.2, 0.584),
               (245.1, 0.584), (246.2, 0.498), (247.3, 0.498), (248.4, 0.584), (249.3, 0.584), (250.0, 0.538),
               (251.3, 0.631), (252.3, 0.660), (254.3, 0.660), (255.2, 0.724), (256.1, 0.772), (257.2, 0.724),
               (258.3, 0.660), (260.2, 0.660), (261.1, 0.584), (262.0, 0.584), (263.0, 0.538), (263.9, 0.452),
               (265.0, 0.538), (266.1, 0.538), (266.9, 0.551), (267.9, 0.538), (270.9, 0.538), (272.0, 0.614),
               (273.1, 0.678), (275.8, 0.678), (277.1, 0.724), (281.9, 0.724), (283.0, 0.678), (285.9, 0.678),
               (286.8, 0.631), (288.0, 0.678), (289.0, 0.631), (289.9, 0.631), (291.0, 0.678), (292.1, 0.631),
               (293.0, 0.631), (294.1, 0.614), (295.7, 0.614), (297.0, 0.551), (297.8, 0.551), (299.0, 0.614),
               (299.9, 0.614), (301.0, 0.678), (304.9, 0.678), (306.0, 0.724), (308.0, 0.724), (309.0, 0.678),
               (311.0, 0.678), (312.0, 0.724), (312.8, 0.678), (316.8, 0.678), (317.9, 0.724), (318.9, 0.678),
               (319.9, 0.724), (320.8, 0.678), (321.9, 0.724), (323.0, 0.678), (323.8, 0.678), (324.9, 0.724),
               (325.8, 0.724), (326.9, 0.678), (330.0, 0.678), (331.0, 0.631), (331.9, 0.678), (334.8, 0.678),
               (335.9, 0.631), (336.8, 0.631), (337.9, 0.678), (338.8, 0.678), (339.9, 0.631), (340.8, 0.631),
               (342.1, 0.566), (343.0, 0.566), (344.2, 0.614), (345.8, 0.614), (347.1, 0.631), (348.9, 0.631),
               (349.9, 0.678), (351.1, 0.724), (352.0, 0.724), (353.0, 0.678), (353.9, 0.678), (355.0, 0.724),
               (357.9, 0.724), (359.0, 0.678), (360.1, 0.631), (361.0, 0.631), (362.0, 0.678), (362.9, 0.631),
               (364.1, 0.678), (365.0, 0.614), (366.1, 0.660), (368.1, 0.660), (369.0, 0.678), (370.1, 0.631),
               (370.9, 0.614), (372.1, 0.566), (374.0, 0.566), (375.1, 0.614), (376.0, 0.551), (377.1, 0.472),
               (378.2, 0.551), (379.1, 0.551), (380.0, 0.566), (381.1, 0.614), (382.2, 0.631), (383.3, 0.678),
               (384.1, 0.678), (385.0, 0.724), (387.0, 0.724), (388.1, 0.772), (389.2, 0.724), (390.2, 0.678),
               (391.2, 0.678), (392.2, 0.614), (393.3, 0.584), (394.4, 0.538), (395.1, 0.538), (396.2, 0.614),
               (398.0, 0.614), (399.3, 0.678), (402.2, 0.678), (403.2, 0.631), (404.1, 0.631), (405.2, 0.566),
               (408.1, 0.566), (409.4, 0.538), (410.1, 0.538), (411.2, 0.584), (412.2, 0.538), (413.1, 0.538),
               (414.2, 0.614), (415.1, 0.631), (417.1, 0.631), (418.2, 0.678), (420.2, 0.678), (421.1, 0.724),
               (422.2, 0.660), (423.1, 0.631), (424.0, 0.631), (425.1, 0.584), (426.0, 0.631), (427.1, 0.678),
               (428.0, 0.631), (429.1, 0.678), (430.1, 0.724), (434.1, 0.724), (435.2, 0.678), (436.1, 0.724),
               (437.2, 0.678), (438.3, 0.614), (439.2, 0.631), (440.2, 0.631), (441.1, 0.566), (442.2, 0.502),
               (443.5, 0.491), (445.3, 0.491), (446.4, 0.502), (448.5, 0.502), (450.0, 0.452), (451.0, 0.538),
               (452.1, 0.584), (453.2, 0.584), (454.3, 0.566), (455.2, 0.566), (456.3, 0.614), (457.2, 0.631),
               (458.3, 0.678), (459.4, 0.678), (460.5, 0.631), (461.6, 0.566), (462.7, 0.631), (463.7, 0.678),
               (464.8, 0.724), (465.9, 0.772), (466.8, 0.724), (467.7, 0.724), (468.8, 0.660), (469.9, 0.614),
               (471.0, 0.566), (471.9, 0.566), (473.0, 0.631), (475.0, 0.631), (476.1, 0.678), (479.9, 0.678),
               (481.0, 0.631), (481.9, 0.631), (483.0, 0.614), (484.1, 0.631), (485.2, 0.678), (486.1, 0.614),
               (487.2, 0.631), (488.3, 0.584), (489.4, 0.566), (490.3, 0.538), (492.1, 0.538), (493.2, 0.614),
               (494.1, 0.614), (495.2, 0.678), (496.3, 0.724), (497.1, 0.660), (498.2, 0.614), (499.1, 0.614),
               (500.2, 0.631), (500.9, 0.566), (502.9, 0.566), (504.0, 0.584), (505.1, 0.631), (506.2, 0.631),
               (507.2, 0.678), (508.1, 0.678), (509.2, 0.631), (510.1, 0.631), (511.2, 0.678), (513.2, 0.678),
               (514.2, 0.631), (516.0, 0.631), (517.0, 0.614), (518.1, 0.566), (519.0, 0.489)]

panel_names = ['IDR', 'Pi-Pi', 'PLD', 'LCR', 'NCPR', 'FCR', 'Hydropho', 'Entropy']
x_ticks = [100, 200, 300, 400, 500]


def split(pts):
    xs, ys = zip(*pts)
    return np.array(xs), np.array(ys)


def expand(runs):
    pos, val = [], []
    for a, b, v in runs:
        for r in range(a, b + 1):
            pos.append(r)
            val.append(v)
    return np.array(pos), np.array(val)


plt.rcParams['font.family'] = 'DejaVu Sans'
fig, axes = plt.subplots(8, 1, figsize=(15.625, 8.3325), sharex=True)

lw = 0.9
ax = axes[0]
x, y = split(idr_pts)
ax.plot(x, y, color='#b3201d', lw=lw)
ax.axhline(0.5, color='black', ls=':', lw=0.5)
ax.set_ylim(-0.1, 1.1)
ax.set_yticks([0, 0.5, 1.0])

ax = axes[1]
x, y = split(pipi_pts)
ax.plot(x, y, color='#2d5597', lw=lw)
ax.set_ylim(-2.69, 1.41)
ax.set_yticks([-2.0, 0.0])

ax = axes[2]
x, y = split(pld_pts)
ax.plot(x, y, color='#1f8b3f', lw=lw)
ax.axhline(0.5, color='black', ls=':', lw=0.5)
ax.set_ylim(-0.1, 1.1)
ax.set_yticks([0, 0.5, 1.0])

ax = axes[3]
x, y = split(lcr_pts)
ax.plot(x, y, color='#ee7d30', lw=lw)
ax.axhline(0.5, color='black', ls=':', lw=0.5)
ax.set_ylim(-0.1, 1.1)
ax.set_yticks([0, 0.5, 1.0])

ax = axes[4]
x, y = expand(ncpr_runs)
cols = np.where(y > 0, '#b6564a', '#94b893')
ax.bar(x, y, width=0.8, color=cols, linewidth=0)
ax.axhline(0.25, color='#999999', ls=':', lw=0.5)
ax.axhline(-0.25, color='#999999', ls=':', lw=0.5)
ax.set_ylim(-0.66, 0.66)
ax.set_yticks([-0.5, 0.0, 0.5])

ax = axes[5]
x, y = expand(fcr_runs)
ax.bar(x, y, width=0.8, color='#9aa09d', linewidth=0)
ax.axhline(0.25, color='#999999', ls=':', lw=0.5)
ax.set_ylim(0, 1.0)
ax.set_yticks([0, 0.5, 1.0])

ax = axes[6]
x, y = split(hydro_pts)
ax.plot(x, y, color='#a3309b', lw=lw)
ax.set_yticks([0, 0.5])

ax = axes[7]
x, y = split(entropy_pts)
ax.plot(x, y, color='#6078ac', lw=lw)
ax.set_ylim(0.4, 0.8)
ax.set_yticks([0.4, 0.6, 0.8])

for ax, name in zip(axes, panel_names):
    ax.set_ylabel(name, fontsize=7.5)
    ax.yaxis.set_major_formatter(matplotlib.ticker.FormatStrFormatter('%.2f'))
    ax.tick_params(direction='in', length=2.5, width=0.6, labelsize=7.5)
    for s in ax.spines.values():
        s.set_linewidth(0.8)

axes[-1].set_xlim(seq_start, seq_end)
axes[-1].set_xticks(x_ticks)
axes[-1].set_xlabel('sequence', fontsize=9, labelpad=12)

fig.savefig('out.png', dpi=400)
